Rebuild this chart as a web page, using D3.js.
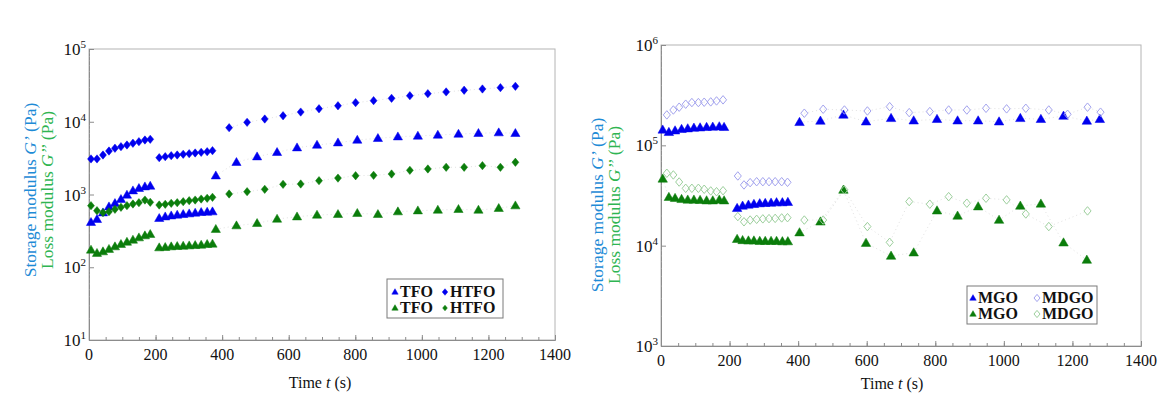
<!DOCTYPE html>
<html lang="en">
<head>
<meta charset="utf-8">
<title>Storage and loss modulus vs time</title>
<script src="https://cdn.jsdelivr.net/npm/d3@7/dist/d3.min.js"></script>
<style>
  body { margin: 0; background: #fff; }
  svg text { font-family: "Liberation Serif", "DejaVu Serif", serif; }
</style>
</head>
<body>
<script>
// ---- left panel data (TFO / HTFO) ----
var tfoTime1 = [6, 24, 42, 60, 78, 96, 114, 132, 150, 168, 184];
var tfoTime2 = [211, 229, 247, 265, 283, 301, 319, 337, 355, 371];
var tfoTime3 = [381, 443, 505, 565, 625, 685, 748, 806, 868, 928, 988, 1048, 1110, 1170, 1231, 1281];
var htfoTime3 = [421, 475, 528, 583, 636, 691, 748, 801, 855, 909, 964, 1018, 1073, 1127, 1182, 1236, 1281];

var tfoStorage1 = [415, 456, 562, 680, 756, 859, 985, 1128, 1217, 1280, 1308];
var tfoStorage2 = [471, 495, 511, 523, 534, 545, 557, 569, 575, 581];
var tfoStorage3 = [1812, 2770, 3310, 3800, 4400, 4785, 5150, 5610, 5920, 6230, 6370, 6570, 6780, 6940, 7080, 6940];

var htfoStorage1 = [3080, 3080, 3490, 3960, 4320, 4540, 4790, 5060, 5320, 5610, 5740];
var htfoStorage2 = [3206, 3310, 3415, 3490, 3570, 3640, 3720, 3800, 3875, 4000];
var htfoStorage3 = [8280, 9820, 10900, 12100, 13600, 15100, 16600, 18300, 19500, 21000, 22800, 24300, 25700, 27100, 28200, 29400, 30700];

var tfoLoss1 = [173, 156, 164, 177, 192, 207, 222, 237, 255, 272, 284];
var tfoLoss2 = [186, 188, 192, 194, 196, 198, 200, 202, 207, 209];
var tfoLoss3 = [333, 373, 402, 460, 495, 523, 534, 552, 534, 581, 599, 612, 626, 612, 646, 702];

var htfoLoss1 = [702, 599, 562, 580, 626, 667, 702, 740, 771, 839, 781];
var htfoLoss2 = [717, 733, 756, 771, 796, 822, 839, 866, 886, 915];
var htfoLoss3 = [1016, 1093, 1178, 1380, 1394, 1548, 1680, 1812, 1836, 1914, 2150, 2243, 2366, 2366, 2490, 2366, 2775];

// ---- right panel data (MGO / MDGO) ----
var mgoTime1 = [5, 23, 41, 60, 78, 96, 114, 133, 151, 170, 184];
var mgoTime2 = [222, 238, 255, 271, 288, 304, 321, 337, 354, 370];
var mgoTime3 = [404, 465, 532, 598, 671, 737, 805, 865, 925, 986, 1048, 1108, 1174, 1242, 1280];
var mdgoTime1 = [17, 36, 53, 72, 90, 109, 126, 145, 162, 181];
var mdgoTime2 = [224, 242, 260, 279, 297, 315, 333, 352, 369];
var mdgoTime3 = [418, 473, 535, 602, 667, 724, 784, 839, 892, 948, 1008, 1064, 1131, 1186, 1244, 1282];
var mdgoLossTime3 = [418, 473, 535, 602, 667, 724, 784, 839, 892, 948, 1008, 1064, 1131, 1244];

var mgoStorage1 = [142600, 135000, 140000, 144700, 146800, 149000, 150000, 151500, 152600, 153700, 151500];
var mgoStorage2 = [23600, 24900, 25500, 25900, 26300, 26500, 26700, 26900, 26900, 27100];
var mgoStorage3 = [169800, 175000, 201000, 172000, 186000, 176000, 182000, 176000, 176000, 172000, 186000, 182000, 196000, 175000, 182000];

var mdgoStorage1 = [201000, 225000, 240000, 257000, 267000, 267000, 269000, 271000, 277000, 284000];
var mdgoStorage2 = [49500, 40300, 42500, 43400, 43400, 43400, 43400, 43400, 42800];
var mdgoStorage3 = [209000, 229000, 225000, 220000, 243000, 212000, 217000, 225000, 225000, 234000, 231000, 234000, 225000, 204000, 240000, 214000];

var mgoLoss1 = [46300, 30400, 29700, 29000, 28600, 28600, 28400, 28100, 28100, 28600, 28100];
var mgoLoss2 = [11600, 11300, 11200, 11200, 11100, 11100, 11100, 11100, 11000, 11000];
var mgoLoss3 = [13500, 17300, 35900, 10600, 7890, 8510, 22300, 19800, 24500, 18000, 24900, 26100, 10700, 7200];

var mdgoLoss1 = [52700, 50700, 43100, 37300, 37300, 37300, 36500, 35100, 34500, 35300];
var mdgoLoss2 = [19500, 17300, 18000, 18300, 18500, 18600, 18700, 18900, 19000];
var mdgoLoss3 = [18000, 18000, 36000, 15500, 10800, 27500, 25900, 30800, 26500, 29700, 28600, 20700, 15500, 22200];

var xTicks = [0, 200, 400, 600, 800, 1000, 1200, 1400];

// colours
var blue = "#0000ee";
var green = "#0b7d0b";
var paleBlue = "#a3a3ee";
var paleGreen = "#9ccf9c";
var labelBlue = "#1e8bd6";
var labelGreen = "#2fb552";

// marker shapes
var triangle = {
  draw: function(ctx, size) {
    var s = Math.sqrt(size);           // side length
    var h = s * 0.866;
    ctx.moveTo(0, -h * 0.6);
    ctx.lineTo(s / 2, h * 0.4);
    ctx.lineTo(-s / 2, h * 0.4);
    ctx.closePath();
  }
};
var diamond = {
  draw: function(ctx, size) {
    var w = Math.sqrt(size) / 2;
    var h = w * 1.2;
    ctx.moveTo(0, -h);
    ctx.lineTo(w, 0);
    ctx.lineTo(0, h);
    ctx.lineTo(-w, 0);
    ctx.closePath();
  }
};

function zip(ts, vs) {
  return vs.map(function(v, i) { return {t: ts[i], v: v}; });
}

var svg = d3.select("body").append("svg")
  .attr("width", 1171)
  .attr("height", 410);

function drawPanel(p) {
  var x = d3.scaleLinear().domain([0, 1400]).range([p.left, p.right]);
  var y = d3.scaleLog().domain(p.yDomain).range([p.bottom, p.top]);
  var g = svg.append("g");
  var axisColor = "#8c8c8c";

  // frame
  g.append("rect")
    .attr("x", p.left).attr("y", p.top)
    .attr("width", p.right - p.left).attr("height", p.bottom - p.top)
    .attr("fill", "none").attr("stroke", "#b4b4b4").attr("stroke-width", 1);

  // x axis: major + minor ticks pointing inward
  var xMinor = d3.range(0, 1401, 50);
  var xAxis = g.append("g")
    .attr("transform", "translate(0," + p.bottom + ")")
    .call(d3.axisBottom(x).tickValues(xMinor).tickSize(-3).tickFormat(""));
  xAxis.select(".domain").attr("stroke", axisColor);
  xAxis.selectAll(".tick line").attr("stroke", axisColor);
  g.append("g")
    .attr("transform", "translate(0," + p.bottom + ")")
    .call(d3.axisBottom(x).tickValues(xTicks).tickSize(-5).tickFormat(""))
    .call(function(a) { a.select(".domain").remove(); a.selectAll(".tick line").attr("stroke", axisColor); });
  g.selectAll(".xlab").data(xTicks).enter().append("text")
    .attr("x", function(d) { return x(d); })
    .attr("y", p.bottom + p.xLabelDy)
    .attr("text-anchor", "middle")
    .attr("font-size", 16)
    .attr("fill", "#111")
    .text(function(d) { return d; });

  // y axis: decades + minor ticks
  var decades = d3.range(Math.log10(p.yDomain[0]), Math.log10(p.yDomain[1]) + 1).map(function(e) { return Math.pow(10, e); });
  var minor = [];
  decades.slice(0, -1).forEach(function(d) { for (var k = 2; k < 10; k++) minor.push(d * k); });
  var yAxis = g.append("g")
    .attr("transform", "translate(" + p.left + ",0)")
    .call(d3.axisLeft(y).tickValues(minor).tickSize(-2).tickFormat(""));
  yAxis.select(".domain").attr("stroke", axisColor);
  yAxis.selectAll(".tick line").attr("stroke", "#a0a0a0").attr("stroke-dasharray", "1,1");
  g.append("g")
    .attr("transform", "translate(" + p.left + ",0)")
    .call(d3.axisLeft(y).tickValues(decades).tickSize(-5).tickFormat(""))
    .call(function(a) { a.select(".domain").remove(); a.selectAll(".tick line").attr("stroke", axisColor); });
  var yl = g.selectAll(".ylab").data(decades).enter().append("text")
    .attr("x", p.left - 3)
    .attr("y", function(d) { return y(d) + 6; })
    .attr("text-anchor", "end")
    .attr("font-size", 17)
    .attr("fill", "#111");
  yl.append("tspan").text("10");
  yl.append("tspan").attr("font-size", 11).attr("dy", -7)
    .text(function(d) { return Math.round(Math.log10(d)); });

  // axis titles
  var titles = [
    {label: "Storage modulus ", sym: "G’", color: labelBlue, x: p.yTitleX},
    {label: "Loss modulus ", sym: "G’’", color: labelGreen, x: p.yTitleX + 17}
  ];
  titles.forEach(function(tt) {
    var t = g.append("text")
      .attr("transform", "translate(" + tt.x + "," + p.yTitleY + ") rotate(-90)")
      .attr("text-anchor", "middle")
      .attr("font-size", 17.5)
      .attr("fill", tt.color);
    t.append("tspan").text(tt.label);
    t.append("tspan").attr("font-style", "italic").text(tt.sym);
    t.append("tspan").text(" (Pa)");
  });
  var xt = g.append("text")
    .attr("x", p.xTitleX).attr("y", p.bottom + p.xTitleDy)
    .attr("text-anchor", "middle")
    .attr("font-size", 16)
    .attr("fill", "#111");
  xt.append("tspan").text("Time ");
  xt.append("tspan").attr("font-style", "italic").text("t");
  xt.append("tspan").text(" (s)");

  // faint dotted connecting lines
  var line = d3.line().x(function(d) { return x(d.t); }).y(function(d) { return y(d.v); });
  p.series.forEach(function(s) {
    s.segments.forEach(function(seg) {
      g.append("path")
        .attr("d", line(seg))
        .attr("fill", "none")
        .attr("stroke", "#e2e2e2")
        .attr("stroke-width", 1)
        .attr("stroke-dasharray", "1,3");
    });
  });

  // markers
  p.series.forEach(function(s) {
    var pts = [].concat.apply([], s.segments);
    g.selectAll(null).data(pts).enter().append("path")
      .attr("transform", function(d) { return "translate(" + x(d.t) + "," + y(d.v) + ")"; })
      .attr("d", d3.symbol().type(s.shape).size(s.size))
      .attr("fill", s.open ? "none" : s.color)
      .attr("stroke", s.color)
      .attr("stroke-width", s.open ? 1 : 0.5);
  });

  // legend
  var lg = p.legend;
  g.append("rect")
    .attr("x", lg.x).attr("y", lg.y)
    .attr("width", lg.w).attr("height", lg.h)
    .attr("fill", "#fff").attr("stroke", "#7a7a7a").attr("stroke-width", 1);
  p.series.forEach(function(s, i) {
    var col = i < 2 ? 0 : 1;
    var row = i % 2;
    var bx = lg.x + lg.colX[col];
    var by = lg.y + lg.rowY[row];
    g.append("path")
      .attr("transform", "translate(" + (bx + 4) + "," + (by - 5) + ")")
      .attr("d", d3.symbol().type(s.shape).size(s.legendSize))
      .attr("fill", s.open ? "none" : s.color)
      .attr("stroke", s.color)
      .attr("stroke-width", s.open ? 1 : 0.5);
    g.append("text")
      .attr("x", bx + 9).attr("y", by)
      .attr("font-size", lg.fontSize)
      .attr("font-weight", "bold")
      .attr("fill", "#111")
      .text(s.name);
  });
}

drawPanel({
  left: 89, right: 555, top: 49, bottom: 340,
  yDomain: [10, 100000],
  xLabelDy: 20, xTitleX: 320, xTitleDy: 48,
  yTitleX: 36, yTitleY: 190,
  series: [
    {name: "TFO", shape: triangle, size: 85, legendSize: 40, color: blue,
      segments: [zip(tfoTime1, tfoStorage1), zip(tfoTime2, tfoStorage2), zip(tfoTime3, tfoStorage3)]},
    {name: "TFO", shape: triangle, size: 85, legendSize: 40, color: green,
      segments: [zip(tfoTime1, tfoLoss1), zip(tfoTime2, tfoLoss2), zip(tfoTime3, tfoLoss3)]},
    {name: "HTFO", shape: diamond, size: 48, legendSize: 30, color: blue,
      segments: [zip(tfoTime1, htfoStorage1), zip(tfoTime2, htfoStorage2), zip(htfoTime3, htfoStorage3)]},
    {name: "HTFO", shape: diamond, size: 48, legendSize: 22, color: green,
      segments: [zip(tfoTime1, htfoLoss1), zip(tfoTime2, htfoLoss2), zip(htfoTime3, htfoLoss3)]}
  ],
  legend: {x: 387, y: 279, w: 116, h: 39, colX: [4, 54], rowY: [18, 34], fontSize: 16}
});

drawPanel({
  left: 661, right: 1141, top: 45, bottom: 346,
  yDomain: [1000, 1000000],
  xLabelDy: 20, xTitleX: 892, xTitleDy: 43,
  yTitleX: 603, yTitleY: 205,
  series: [
    {name: "MGO", shape: triangle, size: 90, legendSize: 42, color: blue,
      segments: [zip(mgoTime1, mgoStorage1), zip(mgoTime2, mgoStorage2), zip(mgoTime3, mgoStorage3)]},
    {name: "MGO", shape: triangle, size: 90, legendSize: 42, color: green,
      segments: [zip(mgoTime1, mgoLoss1), zip(mgoTime2, mgoLoss2), zip(mgoTime3, mgoLoss3)]},
    {name: "MDGO", shape: diamond, size: 50, legendSize: 36, color: paleBlue, open: true,
      segments: [zip(mdgoTime1, mdgoStorage1), zip(mdgoTime2, mdgoStorage2), zip(mdgoTime3, mdgoStorage3)]},
    {name: "MDGO", shape: diamond, size: 50, legendSize: 36, color: paleGreen, open: true,
      segments: [zip(mdgoTime1, mdgoLoss1), zip(mdgoTime2, mdgoLoss2), zip(mdgoLossTime3, mdgoLoss3)]}
  ],
  legend: {x: 967, y: 286, w: 130, h: 38, colX: [2, 66], rowY: [17, 33], fontSize: 16}
});
</script>
</body>
</html>
